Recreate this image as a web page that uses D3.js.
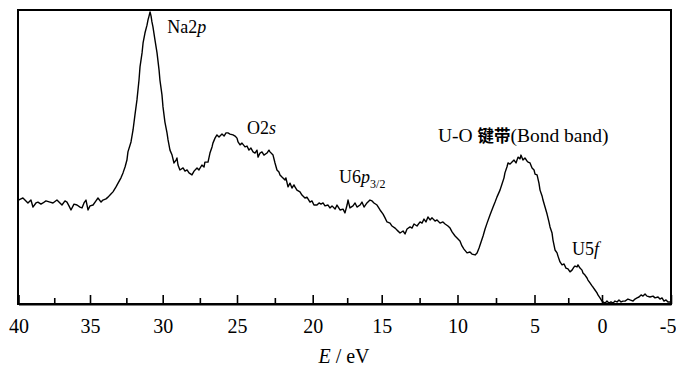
<!DOCTYPE html>
<html>
<head>
<script src="https://cdn.jsdelivr.net/npm/d3@7"></script>
</head>
<body style="margin:0;background:#fff">
<svg id="chart" width="676" height="368" style="display:block"></svg>
<script>
// Valence-band photoelectron spectrum: binding energy (eV) vs. intensity (arb. units)
const energy = [
  40.00, 39.83, 39.69, 39.48, 39.34, 39.13, 38.99, 38.78, 38.64, 38.43,
  38.29, 38.08, 37.80, 37.59, 37.31, 37.10, 36.96, 36.75, 36.61, 36.47,
  36.33, 36.12, 35.91, 35.70, 35.56, 35.42, 35.28, 35.14, 35.00,
  34.79, 34.59, 34.45, 34.24, 34.11, 33.90, 33.76, 33.56, 33.42, 33.21,
  33.07, 32.87, 32.73, 32.59, 32.46, 32.39, 32.18, 32.04, 31.91, 31.77,
  31.63, 31.56, 31.42, 31.35, 31.22, 31.08, 31.01, 30.94, 30.87, 30.80,
  30.74, 30.67, 30.53, 30.39, 30.25, 30.19, 30.05,
  29.98, 29.85, 29.71, 29.64, 29.51, 29.37, 29.24, 29.10, 29.04, 28.97,
  28.84, 28.63, 28.50, 28.36, 28.23, 28.03, 27.89, 27.69, 27.56, 27.36,
  27.22, 27.16, 26.95, 26.82, 26.68, 26.62, 26.48, 26.35, 26.21, 26.01,
  25.87, 25.74, 25.61, 25.47, 25.27, 25.13,
  25.00, 24.93, 24.80, 24.67, 24.47, 24.34, 24.21, 24.08, 23.94, 23.81,
  23.68, 23.61, 23.48, 23.35, 23.22, 23.02, 22.89, 22.82, 22.62, 22.49,
  22.36, 22.23, 22.16, 22.03, 21.83, 21.77, 21.63, 21.50, 21.37, 21.24,
  21.17, 21.04, 20.84, 20.71, 20.51, 20.38, 20.18, 20.05,
  19.91, 19.69, 19.54, 19.40, 19.25, 19.11, 18.89, 18.75, 18.60, 18.38,
  18.24, 18.02, 17.80, 17.66, 17.51, 17.44, 17.30, 17.08, 16.93, 16.79,
  16.57, 16.43, 16.28, 16.07, 15.85, 15.70, 15.56, 15.34, 15.12,
  14.91, 14.78, 14.65, 14.45, 14.32, 14.12, 13.99, 13.79, 13.59, 13.46,
  13.33, 13.13, 13.00, 12.87, 12.67, 12.47, 12.34, 12.21, 12.08, 11.95,
  11.81, 11.68, 11.48, 11.35, 11.15, 10.96, 10.82, 10.63, 10.49, 10.36,
  10.16, 10.03,
  9.84, 9.71, 9.58, 9.38, 9.19, 9.06, 8.86, 8.73, 8.60, 8.47,
  8.34, 8.21, 8.08, 7.89, 7.69, 7.56, 7.44, 7.24, 7.11, 6.98,
  6.92, 6.79, 6.72, 6.59, 6.46, 6.33, 6.20, 6.07, 5.94, 5.88,
  5.75, 5.62, 5.49, 5.42, 5.29, 5.16, 5.03,
  4.96, 4.81, 4.67, 4.59, 4.44, 4.37, 4.22, 4.07, 3.93, 3.85,
  3.70, 3.63, 3.48, 3.33, 3.26, 3.11, 2.96, 2.81, 2.67, 2.52,
  2.37, 2.22, 2.07, 2.00, 1.85, 1.78, 1.63, 1.48, 1.41, 1.26,
  1.11, 1.04, 0.89, 0.74, 0.67, 0.52, 0.37, 0.30, 0.15,
  0.00, -0.07, -0.22, -0.36, -0.51, -0.65, -0.80, -0.94, -1.09, -1.23,
  -1.38, -1.52, -1.67, -1.88, -2.03, -2.25, -2.39, -2.54, -2.68, -2.83,
  -2.97, -3.12, -3.26, -3.48, -3.70, -3.84, -4.06, -4.20, -4.35, -4.49,
  -4.64, -4.78, -4.93
];

const intensity = [
  35.6, 36.0, 36.3, 35.3, 34.6, 35.6, 33.2, 34.6, 34.9, 34.2,
  34.6, 35.3, 34.9, 34.6, 35.6, 34.6, 33.9, 35.3, 34.9, 33.6,
  32.2, 34.2, 33.9, 33.2, 32.9, 34.6, 35.6, 32.2, 33.6,
  33.9, 35.3, 36.3, 34.9, 35.6, 36.0, 36.6, 37.7, 38.4, 40.1,
  41.4, 43.2, 44.9, 46.9, 49.3, 52.1, 55.5, 59.6, 64.7, 69.9,
  76.7, 81.2, 86.0, 89.4, 92.8, 95.5, 97.3, 98.6, 100.0, 98.6,
  96.6, 94.9, 90.4, 86.0, 80.1, 76.7, 71.6,
  67.5, 62.3, 58.6, 56.2, 52.7, 51.0, 48.3, 49.3, 50.0, 47.6,
  45.9, 46.6, 45.5, 45.9, 44.9, 44.2, 45.5, 46.6, 45.9, 47.6,
  46.9, 48.6, 48.6, 51.7, 53.8, 55.1, 56.8, 57.9, 57.2, 58.2,
  57.5, 58.6, 58.6, 58.2, 57.9, 57.5,
  56.8, 55.5, 54.5, 55.1, 53.8, 54.1, 52.7, 53.4, 52.1, 51.7,
  52.7, 50.3, 51.7, 52.1, 51.0, 51.7, 52.7, 52.1, 51.0, 48.3,
  45.9, 45.2, 44.2, 43.5, 42.5, 43.2, 40.1, 41.4, 39.7, 40.8,
  40.1, 39.0, 38.4, 37.3, 36.3, 36.6, 34.9, 35.3,
  33.9, 33.9, 34.6, 34.2, 34.6, 33.6, 33.9, 32.9, 33.6, 32.5,
  33.9, 32.2, 32.5, 31.2, 33.9, 35.6, 32.9, 33.6, 34.6, 33.2,
  33.9, 34.9, 33.2, 34.6, 35.6, 35.3, 34.6, 33.9, 32.2,
  30.8, 29.5, 28.1, 27.7, 26.7, 26.0, 25.3, 24.3, 25.0, 24.0,
  25.7, 26.4, 26.0, 27.4, 26.7, 28.1, 27.7, 29.1, 28.1, 29.8,
  28.8, 29.5, 28.4, 28.8, 27.7, 28.1, 27.4, 26.7, 26.0, 24.7,
  23.3, 22.6,
  21.6, 19.9, 18.8, 17.5, 17.8, 17.1, 16.8, 17.5, 19.2, 21.2,
  23.3, 25.7, 27.7, 30.5, 33.2, 34.9, 36.6, 39.0, 41.1, 43.2,
  44.9, 46.9, 48.3, 47.9, 48.6, 49.3, 48.3, 50.3, 49.7, 51.0,
  49.3, 50.0, 49.0, 48.6, 48.3, 46.6, 45.9,
  44.5, 44.2, 41.4, 39.0, 37.0, 35.6, 33.2, 30.8, 28.1, 26.4,
  24.3, 21.9, 18.5, 17.5, 16.4, 14.4, 13.4, 13.7, 12.3, 12.0,
  11.0, 11.6, 12.7, 13.0, 12.7, 13.4, 12.3, 11.6, 10.6, 9.9,
  8.9, 8.2, 7.2, 6.2, 5.8, 4.8, 3.8, 3.1, 2.1,
  1.0, 0.7, 0.3, 1.0, 0.3, 0.7, 0.3, 1.0, 0.7, 1.4,
  0.7, 1.0, 1.0, 1.7, 1.4, 1.0, 1.7, 2.1, 2.4, 3.1,
  2.7, 3.4, 2.7, 2.4, 2.7, 2.1, 2.4, 1.7, 2.1, 1.0,
  1.4, 0.7, 0.7
];

// Axis ticks
const majorTicks = [40, 35, 30, 25, 20, 15, 10, 5, 0, -5];
const majorTickLabels = ["40", "35", "30", "25", "20", "15", "10", "5", "0", "-5"];
const minorTicks = [37.5, 32.5, 27.5, 22.5, 17.5, 12.5, 7.5, 2.5];

// Peak assignments: [energy, intensity] anchor of each label's baseline start
const peakNames = ["Na2p", "O2s", "U6p3/2", "U-O bond", "U5f"];
const peakAnchorE = [29.7, 24.34, 18.09, 11.29, 2.22];
const peakAnchorI = [92.8, 58.2, 41.4, 55.5, 16.8];
const bondBandZh = "\u952E\u5E26"; // 键带

const svg = d3.select("#chart");
const frame = { left: 18, right: 671, top: 10, bottom: 304 };

// Serif text helper
function serif(sel, size) {
  return sel
    .style("font-family", '"Liberation Serif"')
    .attr("font-size", size);
}

// Energy axis runs from high to low binding energy; the printed axis is
// slightly uneven, so the scale is piecewise-linear through its major ticks.
const x = d3.scaleLinear()
  .domain(majorTicks)
  .range([18.5, 90, 162.7, 237, 312.7, 381.7, 457.5, 534.5, 602, 671]);

const y = d3.scaleLinear()
  .domain([0, 100])
  .range([frame.bottom, 12]);

// Plot frame
svg.append("rect")
  .attr("x", frame.left)
  .attr("y", frame.top)
  .attr("width", frame.right - frame.left)
  .attr("height", frame.bottom - frame.top)
  .attr("fill", "none")
  .attr("stroke", "#000")
  .attr("stroke-width", 2);

// Spectrum trace
const points = energy.map((e, i) => [e, intensity[i]]);
svg.append("path")
  .datum(points)
  .attr("fill", "none")
  .attr("stroke", "#000")
  .attr("stroke-width", 1.4)
  .attr("stroke-linejoin", "round")
  .attr("d", d3.line().x(d => x(d[0])).y(d => y(d[1])));

// Bottom axis: inward major ticks with labels
const labelFor = new Map(majorTicks.map((t, i) => [t, majorTickLabels[i]]));
const axisMajor = d3.axisBottom(x)
  .tickValues(majorTicks)
  .tickFormat(d => labelFor.get(d))
  .tickSizeInner(-9)
  .tickSizeOuter(0)
  .tickPadding(15);

const gx = svg.append("g")
  .attr("transform", `translate(0,${frame.bottom})`)
  .call(axisMajor)
  .attr("font-family", null);
gx.select(".domain").attr("stroke-width", 2.2);
gx.selectAll(".tick line").attr("stroke-width", 1.6);
serif(gx.selectAll(".tick text"), 20).attr("fill", "#000");
// the last label sits at the frame's right edge; keep it inside the page
gx.selectAll(".tick text")
  .filter(d => d === majorTicks[majorTicks.length - 1])
  .attr("text-anchor", "end")
  .attr("x", 676 - x(majorTicks[majorTicks.length - 1]));

// Minor ticks
const axisMinor = d3.axisBottom(x)
  .tickValues(minorTicks)
  .tickFormat("")
  .tickSizeInner(-6)
  .tickSizeOuter(0);
const gm = svg.append("g")
  .attr("transform", `translate(0,${frame.bottom})`)
  .call(axisMinor);
gm.select(".domain").remove();
gm.selectAll(".tick line").attr("stroke-width", 1.6);

// Axis title
const title = serif(svg.append("text"), 20)
  .attr("x", 344)
  .attr("y", 363)
  .attr("text-anchor", "middle")
  .attr("fill", "#000");
title.append("tspan").attr("font-style", "italic").text("E");
title.append("tspan").text(" / eV");

// Peak labels
function peakLabel(k, size) {
  return serif(svg.append("text"), size)
    .attr("x", x(peakAnchorE[k]))
    .attr("y", y(peakAnchorI[k]))
    .attr("fill", "#000");
}

const na = peakLabel(0, 18);
na.append("tspan").text("Na2");
na.append("tspan").attr("font-style", "italic").text("p");

const o2 = peakLabel(1, 18);
o2.append("tspan").text("O2");
o2.append("tspan").attr("font-style", "italic").text("s");

const u6 = peakLabel(2, 18);
u6.append("tspan").text("U6");
u6.append("tspan").attr("font-style", "italic").text("p");
u6.append("tspan").attr("font-size", 12).attr("dy", 5).text("3/2");

const uo = peakLabel(3, 19.5);
uo.append("tspan").text("U-O ");
uo.append("tspan")
  .style("font-family", '"Noto Sans CJK SC"')
  .attr("font-weight", 700)
  .attr("font-size", 16.5)
  .text(bondBandZh);
uo.append("tspan").text("(Bond band)");

const u5 = peakLabel(4, 18);
u5.append("tspan").text("U5");
u5.append("tspan").attr("font-style", "italic").text("f");
</script>
</body>
</html>
